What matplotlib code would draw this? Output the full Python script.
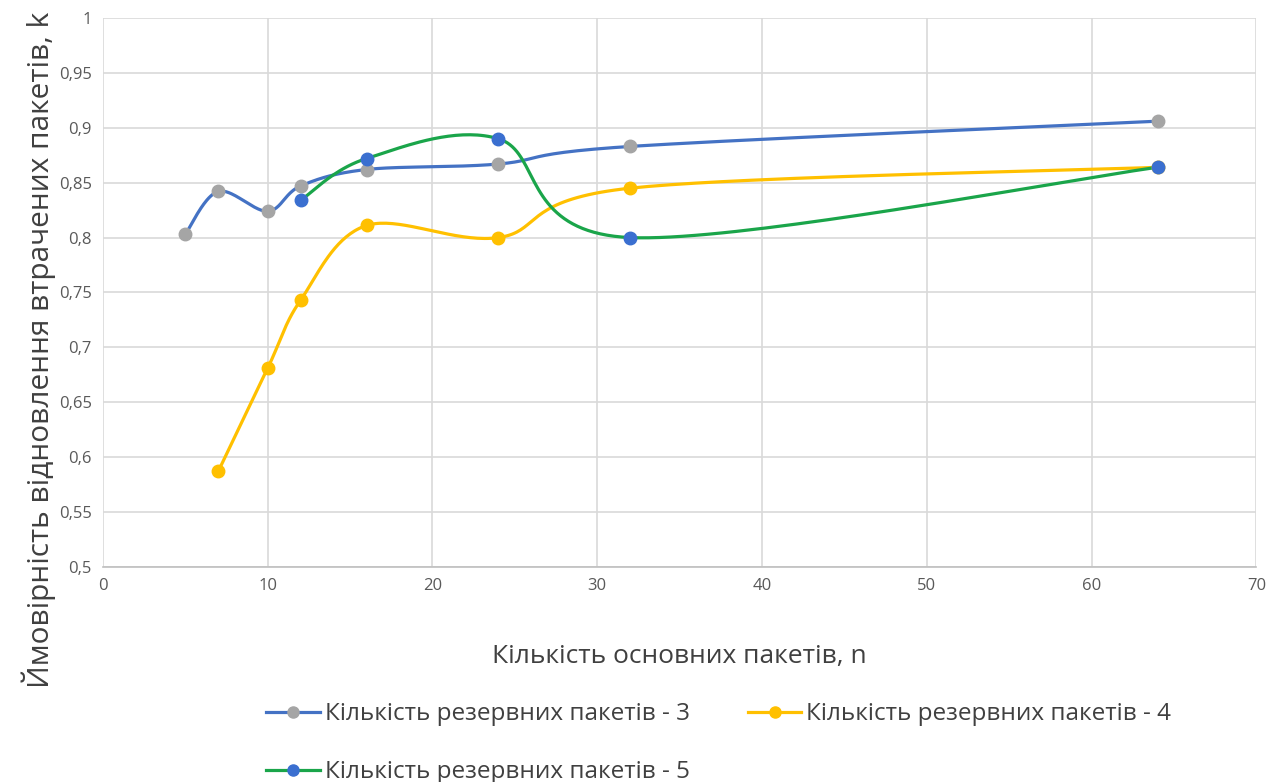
import matplotlib
matplotlib.use("Agg")
import matplotlib.pyplot as plt
import numpy as np

plt.rcParams['font.family'] = ['Open Sans', 'DejaVu Sans']

# n values and recovery probability for 3, 4 and 5 reserve packets
n_r3 = [5, 7, 10, 12, 16, 24, 32, 64]
k_r3 = [0.803, 0.842, 0.824, 0.847, 0.862, 0.867, 0.883, 0.906]

n_r4 = [7, 10, 12, 16, 24, 32, 64]
k_r4 = [0.587, 0.681, 0.743, 0.811, 0.800, 0.845, 0.864]

n_r5 = [12, 16, 24, 32, 64]
k_r5 = [0.834, 0.872, 0.890, 0.800, 0.864]

labels = ["Кількість резервних пакетів - 3",
          "Кількість резервних пакетів - 4",
          "Кількість резервних пакетів - 5"]


def smooth(xs, ys, steps=40):
    """Bezier smoothing through the points, like spreadsheet 'smoothed line'."""
    p = np.column_stack([xs, ys]).astype(float)
    pts = np.vstack([p[0], p, p[-1]])
    out = []
    for i in range(1, len(pts) - 2):
        p0, p1, p2, p3 = pts[i - 1], pts[i], pts[i + 1], pts[i + 2]
        c1 = p1 + (p2 - p0) / 6.0
        c2 = p2 - (p3 - p1) / 6.0
        t = np.linspace(0, 1, steps)[:, None]
        seg = ((1 - t) ** 3 * p1 + 3 * (1 - t) ** 2 * t * c1
               + 3 * (1 - t) * t ** 2 * c2 + t ** 3 * p2)
        out.append(seg)
    seg = np.vstack(out)
    return seg[:, 0], seg[:, 1]


fig = plt.figure(figsize=(12.86, 7.82), dpi=100)
ax = fig.add_axes([0.080, 0.275, 0.897, 0.702])

series = [
    (n_r3, k_r3, "#4472C4", "#A5A5A5"),
    (n_r4, k_r4, "#FFC000", "#FFC000"),
    (n_r5, k_r5, "#1AA54A", "#3A6FD0"),
]
handles = []
for (xs, ys, lc, mc), lab in zip(series, labels):
    sx, sy = smooth(xs, ys)
    ax.plot(sx, sy, color=lc, lw=2.3, zorder=3)
    ax.plot(xs, ys, ls="none", marker="o", ms=9, color=mc, zorder=4)
    h, = ax.plot([], [], color=lc, lw=2.3, marker="o", ms=8,
                 markerfacecolor=mc, markeredgecolor=mc, label=lab)
    handles.append(h)

ax.set_xlim(0, 70)
ax.set_ylim(0.5, 1.0)
ax.set_xticks(range(0, 71, 10))
ax.set_yticks(np.arange(0.5, 1.001, 0.05))
ax.set_yticklabels([f"{v:.2f}".rstrip("0").rstrip(".").replace(".", ",")
                    for v in np.arange(0.5, 1.001, 0.05)])
ax.grid(True, color="#D9D9D9", lw=1.2)
ax.set_axisbelow(True)
for s in ["top", "right", "left"]:
    ax.spines[s].set_visible(False)
ax.spines["bottom"].set_color("#BFBFBF")
ax.spines["bottom"].set_linewidth(1.2)
ax.tick_params(length=0, labelsize=12, colors="#595959", pad=8)

ax.set_xlabel("Кількість основних пакетів, n", fontsize=19, color="#404040",
              labelpad=36)
fig.text(0.030, 0.553, "Ймовірність відновлення втрачених пакетів, k",
         rotation=90, ha="center", va="center", fontsize=21.5, color="#404040")

# row-wise order: 3 and 4 on the first row, 5 below
fig.legend(handles=[handles[0], handles[2], handles[1]], ncol=2,
           loc="upper left", bbox_to_anchor=(0.19, 0.13), frameon=False,
           fontsize=17.5, labelcolor="#404040", handlelength=2.2,
           handletextpad=0.2, columnspacing=2.4, labelspacing=1.4)

fig.savefig("out.png", dpi=100)
